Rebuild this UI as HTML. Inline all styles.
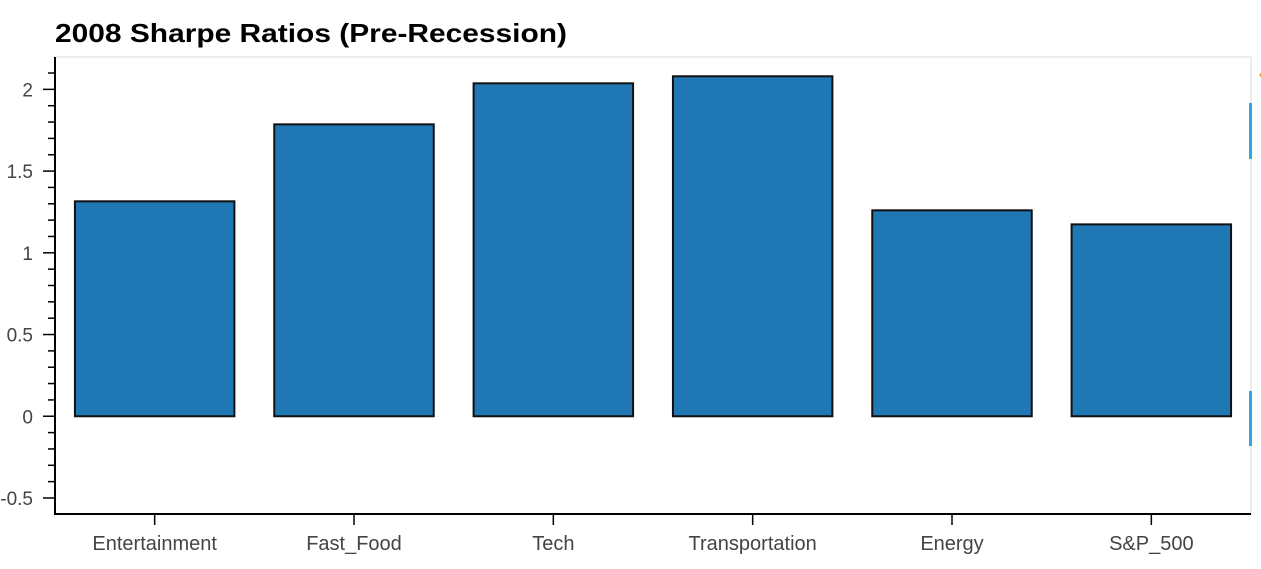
<!DOCTYPE html>
<html><head><meta charset="utf-8"><style>
html,body{margin:0;padding:0;background:#fff;width:1261px;height:569px;overflow:hidden}
svg{display:block;font-family:"Liberation Sans",Arial,sans-serif}
</style></head><body>
<svg id="chart" width="1261" height="569">
<text x="55" y="42" font-size="26" font-weight="bold" fill="#000" textLength="512" lengthAdjust="spacingAndGlyphs">2008 Sharpe Ratios (Pre-Recession)</text>
<rect x="55" y="57" width="1196" height="457" fill="none" stroke="#e6e6e6" stroke-width="1.5"/>
<rect x="1249" y="103" width="3" height="56" fill="#29abe2"/>
<rect x="1249" y="391" width="3" height="55" fill="#29abe2"/>
<circle cx="1262" cy="75" r="2.5" fill="#f0a030"/>
<g id="bars"></g>
<g id="axes"></g>
</svg>
<script>
const categories = ["Entertainment","Fast_Food","Tech","Transportation","Energy","S&P_500"];
const sharpeValues = [1.315, 1.786, 2.037, 2.08, 1.26, 1.174];
const yTickLabels = ["-0.5","0","0.5","1","1.5","2"];
const yTickValues = [-0.5, 0, 0.5, 1, 1.5, 2];

const NS = "http://www.w3.org/2000/svg";
const plotLeft = 55, plotRight = 1251, plotTop = 57, plotBottom = 514;
const yMin = -0.598, yMax = 2.198;
const yScale = v => plotBottom - (v - yMin) / (yMax - yMin) * (plotBottom - plotTop);
const band = (plotRight - plotLeft) / categories.length;
const xScale = i => plotLeft + band * (i + 0.5);

function mk(tag, attrs, parent) {
  const el = document.createElementNS(NS, tag);
  for (const k in attrs) el.setAttribute(k, attrs[k]);
  parent.appendChild(el);
  return el;
}
const barsG = document.getElementById("bars");
const axesG = document.getElementById("axes");

sharpeValues.forEach((v, i) => {
  const w = band * 0.8;
  const y0 = yScale(0), y1 = yScale(v);
  const r = mk("rect", {x: xScale(i) - w / 2, y: Math.min(y0, y1), width: w, height: Math.abs(y0 - y1), fill: "#1f77b4", stroke: "#111", "stroke-width": 2}, barsG);
  
  
});

const yAxis = mk("line", {x1: plotLeft, y1: plotTop, x2: plotLeft, y2: plotBottom + 1, stroke: "#000", "stroke-width": 2}, axesG);


const xAxis = mk("line", {x1: plotLeft - 1, y1: plotBottom, x2: plotRight, y2: plotBottom, stroke: "#000", "stroke-width": 2}, axesG);



for (let k = -5; k <= 21; k++) {
  if (k % 5 === 0) continue;
  const y = yScale(k / 10);
  const t = mk("line", {x1: plotLeft - 7, y1: y, x2: plotLeft, y2: y, stroke: "#000", "stroke-width": 1.5}, axesG);
  
  
}
yTickValues.forEach((v, i) => {
  const y = yScale(v);
  const t = mk("line", {x1: plotLeft - 12, y1: y, x2: plotLeft, y2: y, stroke: "#000", "stroke-width": 1.5}, axesG);
  
  
  const tx = mk("text", {x: plotLeft - 22, y: y + 7, "text-anchor": "end", "font-size": 19, fill: "#444"}, axesG);
  tx.textContent = yTickLabels[i];
  
  
});
categories.forEach((c, i) => {
  const x = xScale(i);
  const t = mk("line", {x1: x, y1: plotBottom, x2: x, y2: plotBottom + 11, stroke: "#000", "stroke-width": 1.5}, axesG);
  
  
  const tx = mk("text", {x: x, y: 550, "text-anchor": "middle", "font-size": 20, fill: "#444"}, axesG);
  tx.textContent = c;
  
  
});
</script>
</body></html>
